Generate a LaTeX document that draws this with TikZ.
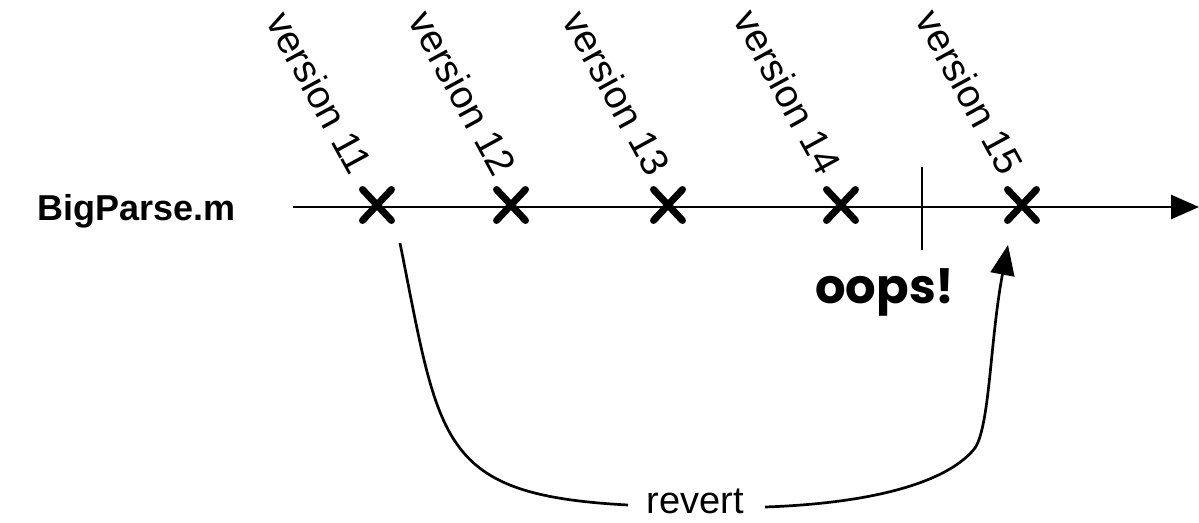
\documentclass[tikz,border=0pt]{standalone}
\usepackage{fontspec}
\setmainfont{Liberation Sans}
\newfontfamily\oopsfont{Poppins}
\usetikzlibrary{arrows.meta,shapes.misc}
\tikzset{
  vlabel/.style={font=\fontsize{39}{39}\selectfont, rotate=-61.4, anchor=base east, inner sep=0pt},
  xmark/.style={cross out, draw, line width=7pt, line cap=round, minimum width=22pt, minimum height=24pt, inner sep=0pt},
  axis/.style={line width=2.7pt, -{Triangle[length=28pt,width=24pt]}},
  revarrow/.style={line width=2.7pt},
}
\begin{document}
\begin{tikzpicture}[x=1pt,y=-1pt]
\useasboundingbox (0,0) rectangle (1199,522);
% timeline
\coordinate (tstart) at (293,207);
\coordinate (tend) at (1199,207);
\draw[axis] (tstart) -- (tend);
% file name
\node[font=\fontsize{36}{36}\selectfont\bfseries, anchor=base west, inner sep=0pt] (file) at (37,220) {BigParse.m};
% version marks
\node[xmark] (x11) at (377,205) {};
\node[xmark] (x12) at (511,205) {};
\node[xmark] (x13) at (668,205) {};
\node[xmark] (x14) at (841,205) {};
\node[xmark] (x15) at (1022,205) {};
% version labels
\node[vlabel] (v11) at (350,177) {version 11};
\node[vlabel] (v12) at (494,179) {version 12};
\node[vlabel] (v13) at (648,179) {version 13};
\node[vlabel] (v14) at (819,178) {version 14};
\node[vlabel] (v15) at (1001,178) {version 15};
% oops tick
\coordinate (ticktop) at (922,167);
\coordinate (tickbot) at (922,250);
\draw[line width=2.5pt] (ticktop) -- (tickbot);
\node[font=\oopsfont\bfseries\fontsize{48}{48}\selectfont, anchor=base, inner sep=0pt] (oops) at (885,303) {oops!};
% revert
\node[font=\fontsize{38}{38}\selectfont, anchor=base, inner sep=0pt] (revert) at (695,513) {revert};
\coordinate (rstart) at (400,243);
\coordinate (rl) at (628,505);
\coordinate (rr) at (765,507);
\coordinate (rmid) at (975,448);
\coordinate (rtip) at (1008,245);
\draw[revarrow] (rstart) .. controls (440,443) and (438,495) .. (rl);
\draw[revarrow, -{Triangle[length=30pt,width=24pt]}] (rr) .. controls (880,503) and (950,480) .. (rmid)
   .. controls (990,425) and (990,340) .. (rtip);
\end{tikzpicture}
\end{document}
